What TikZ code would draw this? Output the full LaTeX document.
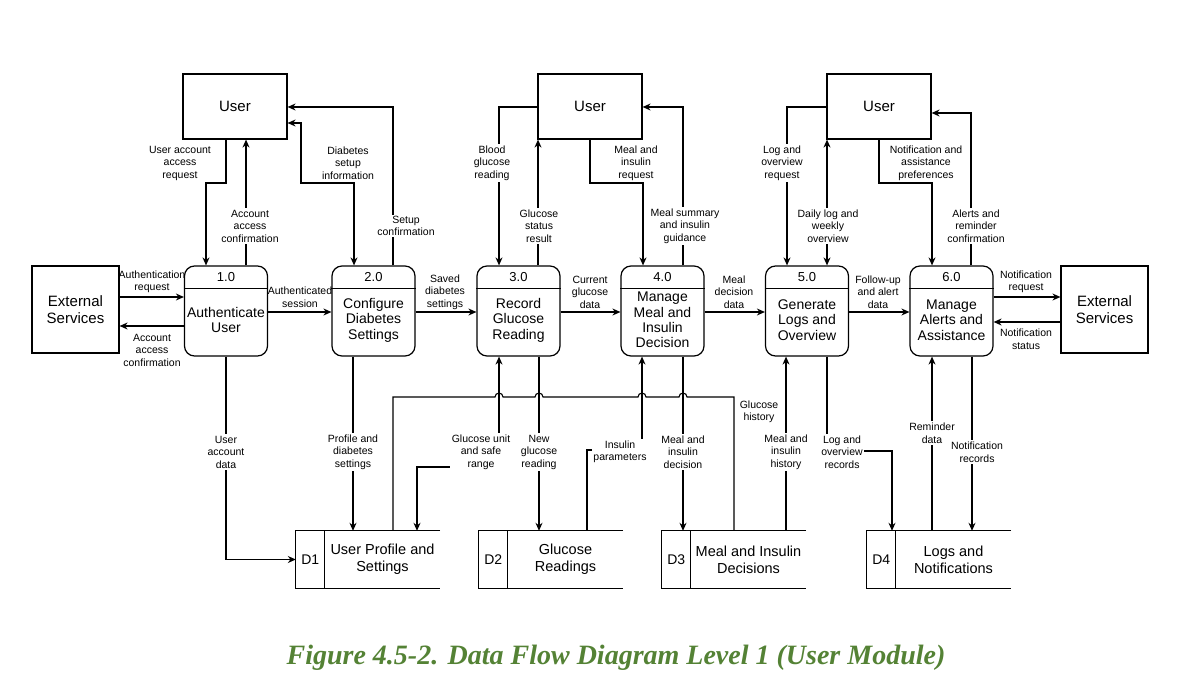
\documentclass[tikz,border=0pt]{standalone}
\usepackage{fontspec}
\setmainfont{Liberation Sans}
\newfontfamily\capfont{Liberation Serif}
\usetikzlibrary{arrows.meta}
\definecolor{capGreen}{RGB}{84,130,53}

% process bubble: name, x, number, text
\newcommand{\proc}[4]{%
  \node[procbox] (#1) at (#2,311) {};
  \draw[boxline] ([yshift=-23pt]#1.north west) -- ([yshift=-23pt]#1.north east);
  \node[numtxt] (#1n) at ([yshift=-11.5pt]#1.north) {#3};
  \node[proctxt] (#1t) at ([yshift=-9pt]#1.center) {#4};
}
% data store: name, centre x, id, text
\newcommand{\store}[4]{%
  \node[storebox] (#1) at (#2,559.5) {};
  \draw[boxline] (#1.north east) -- (#1.north west) -- (#1.south west) -- (#1.south east);
  \draw[boxline] ([xshift=29pt]#1.north west) -- ([xshift=29pt]#1.south west);
  \node[storeid] (#1i) at ([xshift=14.5pt]#1.west) {#3};
  \node[storetxt] (#1t) at ([xshift=14.5pt]#1.center) {#4};
}

\tikzset{
  boxline/.style={line width=1.2pt},
  entity/.style={draw, line width=1.2pt, minimum width=104pt, minimum height=65pt,
    align=center, font=\fontsize{15}{17}\selectfont},
  procbox/.style={draw, line width=1.2pt, rounded corners=10pt,
    minimum width=83pt, minimum height=90pt},
  numtxt/.style={font=\fontsize{13}{15}\selectfont, inner sep=0pt},
  proctxt/.style={align=center, font=\fontsize{14}{15.5}\selectfont, inner sep=0pt},
  storebox/.style={minimum width=144pt, minimum height=57pt, inner sep=0pt},
  storeid/.style={font=\fontsize{14}{16}\selectfont, inner sep=0pt},
  storetxt/.style={align=center, font=\fontsize{14.5}{17}\selectfont, inner sep=0pt},
  flow/.style={line width=1.1pt, -{Stealth[length=8pt,width=7pt]}},
  flowboth/.style={line width=1.1pt, {Stealth[length=8pt,width=7pt]}-{Stealth[length=8pt,width=7pt]}},
  link/.style={line width=1.1pt},
  lbl/.style={align=center, inner sep=1.5pt, font=\fontsize{10.5}{12.5}\selectfont},
  lblw/.style={lbl, fill=white},
}

\begin{document}
\begin{tikzpicture}[x=1pt, y=-1pt]
\useasboundingbox (0,0) rectangle (1177,687);

% external entities
\node[entity] (u1) at (235,106.5) {User};
\node[entity] (u2) at (590,106.5) {User};
\node[entity] (u3) at (879,106.5) {User};
\node[entity, minimum width=87pt, minimum height=87pt] (ext1) at (75.5,309.5) {External\\Services};
\node[entity, minimum width=87pt, minimum height=87pt] (ext2) at (1104.5,309.5) {External\\Services};

% processes
\proc{p1}{226}{1.0}{Authenticate\\User}
\proc{p2}{373.5}{2.0}{Configure\\Diabetes\\Settings}
\proc{p3}{518.5}{3.0}{Record\\Glucose\\Reading}
\proc{p4}{662.5}{4.0}{Manage\\Meal and\\Insulin\\Decision}
\proc{p5}{807}{5.0}{Generate\\Logs and\\Overview}
\proc{p6}{951.5}{6.0}{Manage\\Alerts and\\Assistance}

% data stores
\store{d1}{368}{D1}{User Profile and\\Settings}
\store{d2}{551}{D2}{Glucose\\Readings}
\store{d3}{734}{D3}{Meal and Insulin\\Decisions}
\store{d4}{939}{D4}{Logs and\\Notifications}

% flows of 1.0
\draw[flow] (u1.south -| 226,0) -- (226,183) -| (p1.north -| 206,0);
\draw[flow] (p1.north -| 246,0) -- (u1.south -| 246,0);
\draw[flow] (ext1.east |- 0,297) -- (p1.west |- 0,297);
\draw[flow] (p1.west |- 0,326) -- (ext1.east |- 0,326);
\draw[flow] (p1.east |- 0,312) -- (p2.west |- 0,312);
\draw[flow] (p1.south) |- (d1.west);

% flows of 2.0
\draw[flow] (p2.north -| 393,0) |- (u1.east |- 0,107);
\draw[flowboth] (u1.east |- 0,123) -- (301,123) -- (301,183) -| (p2.north -| 354,0);
\draw[flow] (p2.east |- 0,312) -- (p3.west |- 0,312);
\draw[flow] (p2.south -| 353,0) -- (d1.north -| 353,0);

% flows of 3.0 and 4.0
\draw[flow] (u2.west |- 0,107) -| (p3.north -| 499,0);
\draw[flow] (p3.north -| 538,0) -- (u2.south -| 538,0);
\draw[flow] (p3.east |- 0,312) -- (p4.west |- 0,312);
\draw[flowboth] (d1.north -| 417,0) |- (499,467) -- (p3.south -| 499,0);
\draw[flow] (p3.south -| 539,0) -- (d2.north -| 539,0);
\draw[flow] (d2.north -| 587,0) |- (642,450) -- (p4.south -| 642,0);
\draw[flow] (u2.south -| 590,0) -- (590,183) -| (p4.north -| 643,0);
\draw[flow] (p4.north -| 683,0) |- (u2.east |- 0,107);
\draw[flow] (p4.east |- 0,312) -- (p5.west |- 0,312);
\draw[flow] (p4.south -| 683,0) -- (d3.north -| 683,0);

% glucose history line with hops
\draw[link] (d1.north -| 393,0) -- (393,397) -- (495,397)
  arc[start angle=180, end angle=0, radius=4pt] -- (535,397)
  arc[start angle=180, end angle=0, radius=4pt] -- (638,397)
  arc[start angle=180, end angle=0, radius=4pt] -- (679,397)
  arc[start angle=180, end angle=0, radius=4pt] -- (734,397) -- (d3.north -| 734,0);
\draw[flow] (d3.north -| 786,0) -- (p5.south -| 786,0);

% flows of 5.0 and 6.0
\draw[flow] (u3.west |- 0,107) -| (p5.north -| 787,0);
\draw[flowboth] (p5.north -| 827,0) -- (u3.south -| 827,0);
\draw[flow] (p5.east |- 0,312) -- (p6.west |- 0,312);
\draw[flow] (p5.south -| 827,0) |- (892,451) -- (d4.north -| 892,0);
\draw[flow] (u3.south -| 879,0) -- (879,183) -| (p6.north -| 932,0);
\draw[flow] (p6.north -| 971,0) |- (u3.east |- 0,113);
\draw[flow] (p6.east |- 0,297) -- (ext2.west |- 0,297);
\draw[flow] (ext2.west |- 0,322) -- (p6.east |- 0,322);
\draw[flow] (d4.north -| 932,0) -- (p6.south -| 932,0);
\draw[flow] (p6.south -| 972,0) -- (d4.north -| 972,0);

% flow labels
\node[lbl]  (l1)  at (180,163) {User account\\access\\request};
\node[lblw] (l2)  at (250,226) {Account\\access\\confirmation};
\node[lbl]  (l3)  at (152,282) {Authentication\\request};
\node[lbl]  (l4)  at (152,350) {Account\\access\\confirmation};
\node[lbl]  (l5)  at (300,297) {Authenticated\\session};
\node[lblw] (l6)  at (226,452) {User\\account\\data};
\node[lblw] (l7)  at (406,226) {Setup\\confirmation};
\node[lbl]  (l8)  at (348,163) {Diabetes\\setup\\information};
\node[lbl]  (l9)  at (445,292) {Saved\\diabetes\\settings};
\node[lblw] (l10) at (353,452) {Profile and\\diabetes\\settings};
\node[lblw] (l11) at (492,163) {Blood\\glucose\\reading};
\node[lblw] (l12) at (539,226) {Glucose\\status\\result};
\node[lbl]  (l13) at (590,292) {Current\\glucose\\data};
\node[lblw] (l14) at (481,452) {Glucose unit\\and safe\\range};
\node[lblw] (l15) at (539,452) {New\\glucose\\reading};
\node[lblw] (l16) at (620,452) {Insulin\\parameters};
\node[lblw] (l17) at (683,452) {Meal and\\insulin\\decision};
\node[lbl]  (l18) at (759,412) {Glucose\\history};
\node[lblw] (l19) at (786,452) {Meal and\\insulin\\history};
\node[lblw] (l20) at (782,163) {Log and\\overview\\request};
\node[lblw] (l21) at (828,226) {Daily log and\\weekly\\overview};
\node[lbl]  (l22) at (878,292) {Follow-up\\and alert\\data};
\node[lblw] (l23) at (842,452) {Log and\\overview\\records};
\node[lbl]  (l24) at (926,163) {Notification and\\assistance\\preferences};
\node[lblw] (l25) at (976,226) {Alerts and\\reminder\\confirmation};
\node[lbl]  (l26) at (1026,282) {Notification\\request};
\node[lbl]  (l27) at (1026,339) {Notification\\status};
\node[lblw] (l28) at (932,433) {Reminder\\data};
\node[lblw] (l29) at (977,452) {Notification\\records};
\node[lbl]  (l30) at (636,163) {Meal and\\insulin\\request};
\node[lblw] (l31) at (685,226) {Meal summary\\and insulin\\guidance};
\node[lbl]  (l32) at (734,292) {Meal\\decision\\data};

% caption
\node[text=capGreen, font=\capfont\bfseries\itshape\fontsize{28}{30}\selectfont] (cap) at (616,658)
  {Figure 4.5-2. Data Flow Diagram Level 1 (User Module)};
\end{tikzpicture}
\end{document}
